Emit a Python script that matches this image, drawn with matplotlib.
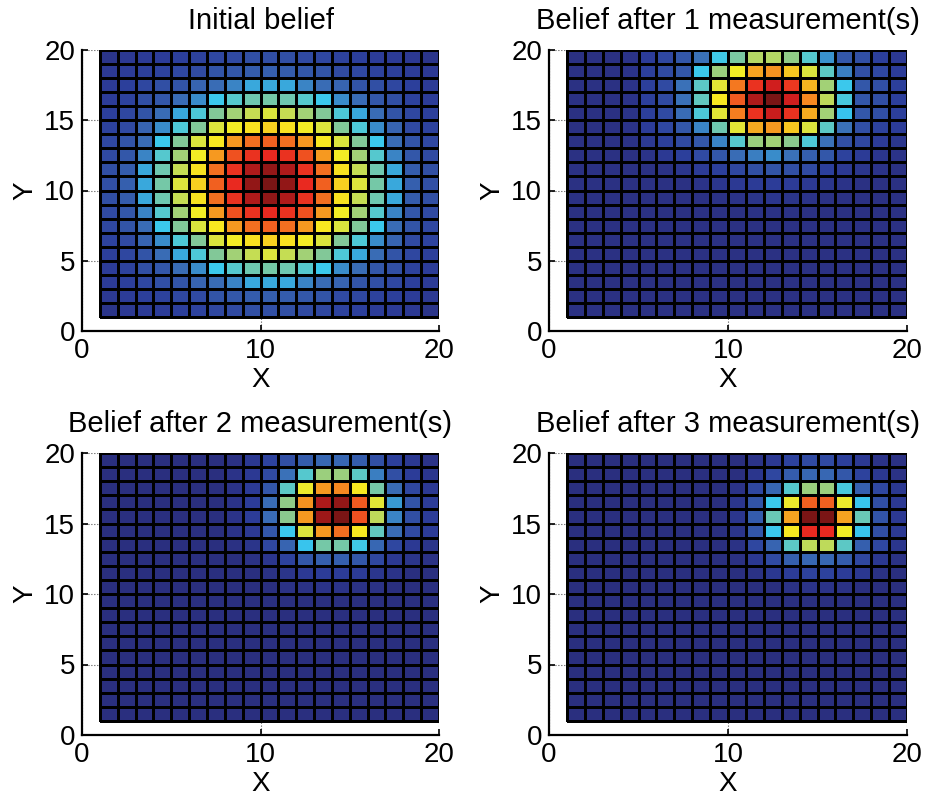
import numpy as np
import matplotlib
matplotlib.use("Agg")
import matplotlib.pyplot as plt
from matplotlib.colors import LinearSegmentedColormap

plt.rcParams['font.family'] = ['Liberation Sans', 'DejaVu Sans']

# cell values (jet position, percent), rows listed top (y=19..20) to bottom (y=1..2)
initial_belief = [
    [7, 10, 11, 12, 13, 14, 15, 16, 17, 17, 17, 16, 15, 14, 13, 12, 11, 10, 7],
    [10, 12, 13, 14, 15, 16, 18, 19, 20, 21, 20, 19, 18, 16, 15, 14, 13, 12, 10],
    [11, 13, 15, 17, 18, 22, 24, 28, 33, 33, 33, 28, 24, 22, 18, 17, 15, 13, 11],
    [12, 14, 17, 19, 24, 29, 38, 42, 46, 47, 46, 42, 38, 29, 24, 19, 17, 14, 12],
    [13, 15, 18, 24, 33, 41, 49, 53, 57, 59, 57, 53, 49, 41, 33, 24, 18, 15, 13],
    [14, 16, 22, 29, 41, 49, 59, 62, 64, 66, 64, 62, 59, 49, 41, 29, 22, 16, 14],
    [15, 18, 24, 38, 49, 59, 63, 72, 77, 79, 77, 72, 63, 59, 49, 38, 24, 18, 15],
    [16, 19, 28, 42, 53, 62, 72, 81, 85, 86, 85, 81, 72, 62, 53, 42, 28, 19, 16],
    [17, 20, 33, 46, 57, 64, 77, 85, 94, 97, 94, 85, 77, 64, 57, 46, 33, 20, 17],
    [17, 21, 33, 47, 59, 66, 79, 86, 97, 100, 97, 86, 79, 66, 59, 47, 33, 21, 17],
    [17, 20, 33, 46, 57, 64, 77, 85, 94, 97, 94, 85, 77, 64, 57, 46, 33, 20, 17],
    [16, 19, 28, 42, 53, 62, 72, 81, 85, 86, 85, 81, 72, 62, 53, 42, 28, 19, 16],
    [15, 18, 24, 38, 49, 59, 63, 72, 77, 79, 77, 72, 63, 59, 49, 38, 24, 18, 15],
    [14, 16, 22, 29, 41, 49, 59, 62, 64, 66, 64, 62, 59, 49, 41, 29, 22, 16, 14],
    [13, 15, 18, 24, 33, 41, 49, 53, 57, 59, 57, 53, 49, 41, 33, 24, 18, 15, 13],
    [12, 14, 17, 19, 24, 29, 38, 42, 46, 47, 46, 42, 38, 29, 24, 19, 17, 14, 12],
    [11, 13, 15, 17, 18, 22, 24, 28, 33, 33, 33, 28, 24, 22, 18, 17, 15, 13, 11],
    [10, 12, 13, 14, 15, 16, 18, 19, 20, 21, 20, 19, 18, 16, 15, 14, 13, 12, 10],
    [7, 10, 11, 12, 13, 14, 15, 16, 17, 17, 17, 16, 15, 14, 13, 12, 11, 10, 7],
]

belief_1 = [
    [4, 4, 4, 6, 12, 15, 19, 25, 39, 48, 55, 55, 51, 42, 30, 19, 17, 13, 10],
    [4, 4, 4, 6, 13, 16, 19, 38, 52, 62, 71, 73, 67, 59, 43, 27, 17, 15, 12],
    [4, 4, 4, 6, 13, 16, 25, 43, 60, 76, 85, 90, 84, 69, 53, 38, 19, 17, 13],
    [4, 4, 4, 6, 13, 16, 25, 44, 63, 80, 94, 100, 90, 74, 56, 40, 19, 17, 13],
    [4, 4, 4, 6, 13, 16, 24, 41, 60, 75, 85, 91, 85, 70, 53, 37, 19, 17, 13],
    [4, 4, 4, 6, 12, 15, 19, 28, 46, 60, 70, 72, 67, 59, 43, 25, 17, 14, 12],
    [4, 4, 4, 5, 10, 13, 16, 19, 28, 42, 52, 53, 50, 41, 25, 17, 15, 11, 8],
    [4, 4, 4, 4, 6, 10, 13, 16, 19, 24, 27, 29, 25, 21, 19, 14, 11, 8, 6],
    [4, 4, 4, 4, 4, 5, 8, 11, 13, 15, 17, 18, 17, 16, 13, 10, 8, 6, 4],
    [4, 4, 4, 4, 4, 4, 4, 6, 8, 10, 11, 12, 11, 10, 8, 6, 4, 4, 4],
    [4, 4, 4, 4, 4, 4, 4, 4, 5, 6, 7, 8, 7, 6, 5, 4, 4, 4, 4],
    [4, 4, 4, 4, 4, 4, 4, 4, 4, 4, 5, 5, 5, 4, 4, 4, 4, 4, 4],
    [4, 4, 4, 4, 4, 4, 4, 4, 4, 4, 4, 4, 4, 4, 4, 4, 4, 4, 4],
    [4, 4, 4, 4, 4, 4, 4, 4, 4, 4, 4, 4, 4, 4, 4, 4, 4, 4, 4],
    [4, 4, 4, 4, 4, 4, 4, 4, 4, 4, 4, 4, 4, 4, 4, 4, 4, 4, 4],
    [4, 4, 4, 4, 4, 4, 4, 4, 4, 4, 4, 4, 4, 4, 4, 4, 4, 4, 4],
    [4, 4, 4, 4, 4, 4, 4, 4, 4, 4, 4, 4, 4, 4, 4, 4, 4, 4, 4],
    [4, 4, 4, 4, 4, 4, 4, 4, 4, 4, 4, 4, 4, 4, 4, 4, 4, 4, 4],
    [4, 4, 4, 4, 4, 4, 4, 4, 4, 4, 4, 4, 4, 4, 4, 4, 4, 4, 4],
]

belief_2 = [
    [3, 3, 3, 3, 3, 3, 3, 4, 9, 14, 17, 20, 23, 23, 20, 17, 13, 9, 6],
    [3, 3, 3, 3, 3, 3, 3, 6, 10, 16, 25, 42, 52, 52, 43, 27, 17, 12, 8],
    [3, 3, 3, 3, 3, 3, 3, 6, 11, 19, 43, 61, 72, 74, 63, 47, 24, 15, 10],
    [3, 3, 3, 3, 3, 3, 3, 6, 12, 24, 51, 73, 94, 97, 80, 60, 31, 18, 12],
    [3, 3, 3, 3, 3, 3, 3, 6, 12, 24, 50, 72, 96, 100, 81, 56, 28, 17, 12],
    [3, 3, 3, 3, 3, 3, 3, 6, 10, 19, 38, 59, 72, 77, 63, 44, 24, 16, 11],
    [3, 3, 3, 3, 3, 3, 3, 4, 7, 15, 22, 37, 47, 47, 39, 23, 15, 10, 7],
    [3, 3, 3, 3, 3, 3, 3, 3, 5, 8, 14, 19, 21, 21, 19, 15, 10, 7, 5],
    [3, 3, 3, 3, 3, 3, 3, 3, 3, 5, 7, 10, 12, 12, 11, 8, 6, 3, 3],
    [3, 3, 3, 3, 3, 3, 3, 3, 3, 3, 5, 5, 6, 6, 5, 5, 3, 3, 3],
    [3, 3, 3, 3, 3, 3, 3, 3, 3, 3, 3, 3, 3, 3, 3, 3, 3, 3, 3],
    [3, 3, 3, 3, 3, 3, 3, 3, 3, 3, 3, 3, 3, 3, 3, 3, 3, 3, 3],
    [3, 3, 3, 3, 3, 3, 3, 3, 3, 3, 3, 3, 3, 3, 3, 3, 3, 3, 3],
    [3, 3, 3, 3, 3, 3, 3, 3, 3, 3, 3, 3, 3, 3, 3, 3, 3, 3, 3],
    [3, 3, 3, 3, 3, 3, 3, 3, 3, 3, 3, 3, 3, 3, 3, 3, 3, 3, 3],
    [3, 3, 3, 3, 3, 3, 3, 3, 3, 3, 3, 3, 3, 3, 3, 3, 3, 3, 3],
    [3, 3, 3, 3, 3, 3, 3, 3, 3, 3, 3, 3, 3, 3, 3, 3, 3, 3, 3],
    [3, 3, 3, 3, 3, 3, 3, 3, 3, 3, 3, 3, 3, 3, 3, 3, 3, 3, 3],
    [3, 3, 3, 3, 3, 3, 3, 3, 3, 3, 3, 3, 3, 3, 3, 3, 3, 3, 3],
]

belief_3 = [
    [3, 3, 3, 3, 3, 3, 3, 3, 3, 3, 6, 10, 14, 16, 16, 13, 10, 6, 4],
    [3, 3, 3, 3, 3, 3, 3, 3, 3, 3, 8, 15, 20, 23, 23, 19, 14, 9, 5],
    [3, 3, 3, 3, 3, 3, 3, 3, 3, 6, 15, 23, 42, 52, 52, 40, 21, 15, 9],
    [3, 3, 3, 3, 3, 3, 3, 3, 3, 8, 18, 38, 61, 79, 79, 61, 37, 17, 10],
    [3, 3, 3, 3, 3, 3, 3, 3, 3, 8, 20, 45, 71, 100, 100, 71, 45, 18, 10],
    [3, 3, 3, 3, 3, 3, 3, 3, 3, 7, 19, 38, 63, 86, 86, 62, 37, 17, 10],
    [3, 3, 3, 3, 3, 3, 3, 3, 3, 5, 15, 22, 43, 56, 56, 43, 21, 15, 8],
    [3, 3, 3, 3, 3, 3, 3, 3, 3, 4, 9, 16, 21, 23, 23, 20, 15, 9, 5],
    [3, 3, 3, 3, 3, 3, 3, 3, 3, 3, 5, 9, 12, 14, 14, 12, 9, 5, 3],
    [3, 3, 3, 3, 3, 3, 3, 3, 3, 3, 3, 3, 5, 6, 6, 5, 3, 3, 3],
    [3, 3, 3, 3, 3, 3, 3, 3, 3, 3, 3, 3, 3, 3, 3, 3, 3, 3, 3],
    [3, 3, 3, 3, 3, 3, 3, 3, 3, 3, 3, 3, 3, 3, 3, 3, 3, 3, 3],
    [3, 3, 3, 3, 3, 3, 3, 3, 3, 3, 3, 3, 3, 3, 3, 3, 3, 3, 3],
    [3, 3, 3, 3, 3, 3, 3, 3, 3, 3, 3, 3, 3, 3, 3, 3, 3, 3, 3],
    [3, 3, 3, 3, 3, 3, 3, 3, 3, 3, 3, 3, 3, 3, 3, 3, 3, 3, 3],
    [3, 3, 3, 3, 3, 3, 3, 3, 3, 3, 3, 3, 3, 3, 3, 3, 3, 3, 3],
    [3, 3, 3, 3, 3, 3, 3, 3, 3, 3, 3, 3, 3, 3, 3, 3, 3, 3, 3],
    [3, 3, 3, 3, 3, 3, 3, 3, 3, 3, 3, 3, 3, 3, 3, 3, 3, 3, 3],
    [3, 3, 3, 3, 3, 3, 3, 3, 3, 3, 3, 3, 3, 3, 3, 3, 3, 3, 3],
]

titles = ["Initial belief", "Belief after 1 measurement(s)",
          "Belief after 2 measurement(s)", "Belief after 3 measurement(s)"]
grids = [initial_belief, belief_1, belief_2, belief_3]

# jet-like map, toned like the printed figure
cmap = LinearSegmentedColormap.from_list("printjet", [
    (0.0, "#2a2b78"), (0.125, "#2c3d9a"), (0.25, "#3a70b8"),
    (0.375, "#38c8f0"), (0.5, "#88c890"), (0.625, "#f8ee20"),
    (0.75, "#f58020"), (0.875, "#e82020"), (1.0, "#7a1515")])

edges = np.arange(1, 21)

fig = plt.figure(figsize=(9.27, 8.0), dpi=100)
positions = [
    [82/927, 1-331/800, 357/927, 281/800],
    [549/927, 1-331/800, 358/927, 281/800],
    [82/927, 1-735/800, 357/927, 282/800],
    [549/927, 1-735/800, 358/927, 282/800],
]

for pos, grid, title in zip(positions, grids, titles):
    ax = fig.add_axes(pos)
    C = np.flipud(np.array(grid)) / 100.0
    ax.pcolormesh(edges, edges, C, cmap=cmap, vmin=0, vmax=1,
                  edgecolors="black", linewidth=1.8, zorder=2)
    ax.set_xlim(0, 20)
    ax.set_ylim(0, 20)
    ax.set_xticks([0, 10, 20])
    ax.set_yticks([0, 5, 10, 15, 20])
    ax.grid(True, linestyle=":", color="#555555", linewidth=0.8, zorder=0)
    ax.set_axisbelow(True)
    for s in ["top", "right"]:
        ax.spines[s].set_visible(False)
    for s in ["left", "bottom"]:
        ax.spines[s].set_linewidth(1.6)
    ax.tick_params(direction="in", length=4, width=1.2, labelsize=20, pad=5)
    ax.set_title(title, fontsize=21, pad=15)
    ax.set_xlabel("X", fontsize=20, labelpad=2)
    ax.set_ylabel("Y", fontsize=20, labelpad=4)

fig.savefig("out.png", dpi=100)
